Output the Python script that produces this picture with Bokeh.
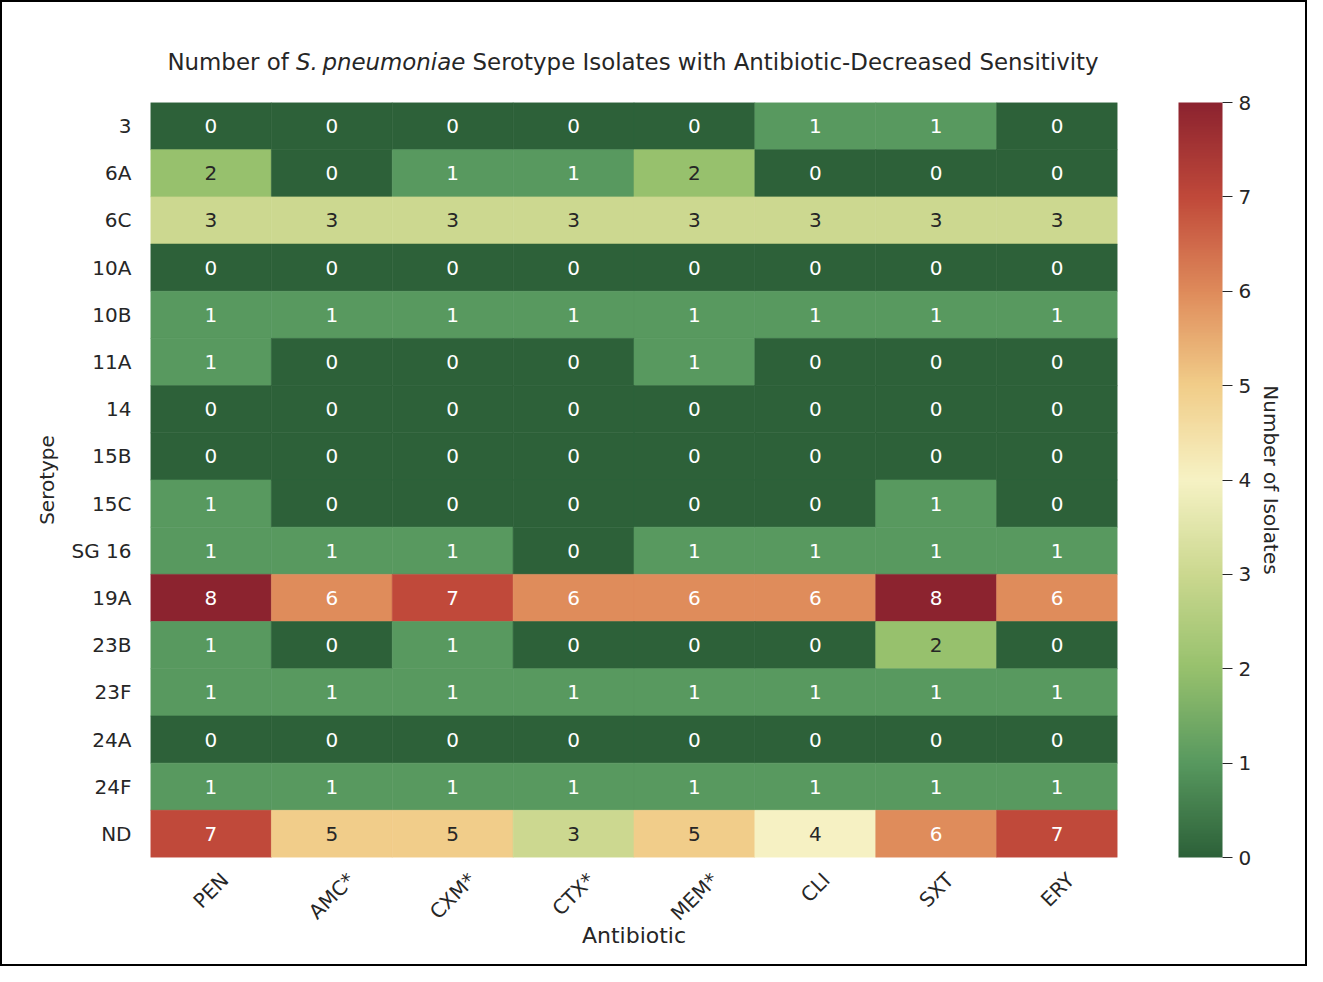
import math
import numpy as np
from bokeh.plotting import figure
from bokeh.layouts import column
from bokeh.models import (ColumnDataSource, LinearColorMapper, ColorBar,
                          FixedTicker, LinearAxis, Range1d, Div)
from bokeh.core.properties import value
from bokeh.embed import file_html
from bokeh.resources import INLINE

# ---------------- data ----------------
antibiotics = ["PEN", "AMC*", "CXM*", "CTX*", "MEM*", "CLI", "SXT", "ERY"]
serotypes = ["3", "6A", "6C", "10A", "10B", "11A", "14", "15B", "15C",
             "SG 16", "19A", "23B", "23F", "24A", "24F", "ND"]

row_3 = [0, 0, 0, 0, 0, 1, 1, 0]
row_6A = [2, 0, 1, 1, 2, 0, 0, 0]
row_6C = [3, 3, 3, 3, 3, 3, 3, 3]
row_10A = [0, 0, 0, 0, 0, 0, 0, 0]
row_10B = [1, 1, 1, 1, 1, 1, 1, 1]
row_11A = [1, 0, 0, 0, 1, 0, 0, 0]
row_14 = [0, 0, 0, 0, 0, 0, 0, 0]
row_15B = [0, 0, 0, 0, 0, 0, 0, 0]
row_15C = [1, 0, 0, 0, 0, 0, 1, 0]
row_SG16 = [1, 1, 1, 0, 1, 1, 1, 1]
row_19A = [8, 6, 7, 6, 6, 6, 8, 6]
row_23B = [1, 0, 1, 0, 0, 0, 2, 0]
row_23F = [1, 1, 1, 1, 1, 1, 1, 1]
row_24A = [0, 0, 0, 0, 0, 0, 0, 0]
row_24F = [1, 1, 1, 1, 1, 1, 1, 1]
row_ND = [7, 5, 5, 3, 5, 4, 6, 7]

rows = [row_3, row_6A, row_6C, row_10A, row_10B, row_11A, row_14, row_15B,
        row_15C, row_SG16, row_19A, row_23B, row_23F, row_24A, row_24F, row_ND]

colorbar_ticks = [0, 1, 2, 3, 4, 5, 6, 7, 8]

# ---------------- colours ----------------
anchor_colors = ["#2d6139", "#58995f", "#97c16d", "#cbd88f", "#f6f2c4",
                 "#f1cd89", "#df8b5b", "#c0493a", "#8c232f"]


def hex2rgb(h):
    return np.array([int(h[i:i + 2], 16) for i in (1, 3, 5)], dtype=float)


anchors = np.array([hex2rgb(c) for c in anchor_colors])
pos = np.linspace(0, 1, len(anchor_colors))
t = np.linspace(0, 1, 256)
rgb = np.stack([np.interp(t, pos, anchors[:, k]) for k in range(3)], axis=1)
palette = ["#%02x%02x%02x" % tuple(int(round(v)) for v in c) for c in rgb]
vmin, vmax = 0, 8


def color_of(v):
    idx = int(round((v - vmin) / (vmax - vmin) * 255))
    return palette[idx], rgb[idx] / 255.0


def rel_lum(c):
    c = np.where(c <= 0.03928, c / 12.92, ((c + 0.055) / 1.055) ** 2.4)
    return 0.2126 * c[0] + 0.7152 * c[1] + 0.0722 * c[2]


nx, ny = len(antibiotics), len(serotypes)
xs, ys, vals, fills, tcols = [], [], [], [], []
for j, r in enumerate(rows):
    for i, v in enumerate(r):
        col, c = color_of(v)
        xs.append(i + 0.5)                 # column index
        ys.append(ny - j - 0.5)            # first serotype at the top
        vals.append(str(v))
        fills.append(col)
        tcols.append("#262626" if rel_lum(c) > 0.408 else "#ffffff")

src = ColumnDataSource(dict(x=xs, y=ys, v=vals, fill=fills, tc=tcols))

# ---------------- layout ----------------
BW = 2                       # page border
W, H = 1307 - 2 * BW, 966 - 2 * BW
TH = 80                      # title block height
FL, FT, FR, FB = 148, 100, 1115, 855   # frame edges (inner page px)
FONT = "DejaVu Sans"
TXT = "#262626"

title = Div(
    text=('<div style="padding-top:47px; width:1262px; text-align:center; '
          'font-family:\'DejaVu Sans\'; font-size:22.9px; line-height:26px; '
          'color:#262626; white-space:nowrap;">Number of <i>S.&thinsp;pneumoniae</i> '
          'Serotype Isolates with Antibiotic-Decreased Sensitivity</div>'),
    width=W, height=TH, styles={"background-color": "white", "margin": "0"})

PH = H - TH
p = figure(width=W, height=PH, output_backend="svg", toolbar_location=None,
           x_range=Range1d(0, nx), y_range=Range1d(0, ny),
           x_axis_location=None, y_axis_location=None,
           min_border_left=FL, min_border_right=W - FR, min_border_top=FT - TH,
           min_border_bottom=PH - (FB - TH), title=None)
p.outline_line_color = None
p.grid.visible = False
p.background_fill_color = "white"
p.border_fill_color = "white"

p.rect(x="x", y="y", width=1, height=1, source=src, fill_color="fill",
       line_color="fill", line_width=0.6)
p.text(x="x", y="y", text="v", source=src, text_color="tc",
       text_align="center", text_baseline="middle",
       text_font=value(FONT), text_font_size="20px")

# serotype axis
yticks = [ny - j - 0.5 for j in range(ny)]
ya = LinearAxis(ticker=FixedTicker(ticks=yticks),
                major_label_overrides={yt: s for yt, s in zip(yticks, serotypes)},
                axis_line_color=None, major_tick_line_color=None,
                minor_tick_line_color=None, major_tick_out=0, major_tick_in=0,
                major_label_standoff=19, major_label_text_font=FONT,
                major_label_text_font_size="20px", major_label_text_color=TXT,
                axis_label="Serotype", axis_label_text_font=FONT,
                axis_label_text_font_style="normal",
                axis_label_text_font_size="20px", axis_label_text_color=TXT,
                axis_label_standoff=10)
p.add_layout(ya, "left")

# rotated antibiotic labels: centred on each column (shifted tick positions)
char_w = {"P": 1235, "E": 1294, "N": 1532, "A": 1401, "M": 1767, "C": 1430,
          "*": 1024, "X": 1401, "T": 1251, "L": 1141, "I": 604, "S": 1300,
          "Y": 1251, "R": 1423}
col_px = (FR - FL) / nx
xticks, xover = [], {}
for i, a in enumerate(antibiotics):
    w = sum(char_w[ch] for ch in a) / 2048 * 20
    tv = round(i + 0.5 + (w * 0.7071 / 2) / col_px, 4)
    xticks.append(tv)
    xover[tv] = a
xa = LinearAxis(ticker=FixedTicker(ticks=xticks), major_label_overrides=xover,
                major_label_orientation=math.pi / 4,
                axis_line_color=None, major_tick_line_color=None,
                minor_tick_line_color=None, major_tick_out=0, major_tick_in=0,
                major_label_standoff=19, major_label_text_font=FONT,
                major_label_text_font_size="20px", major_label_text_color=TXT,
                axis_label="Antibiotic", axis_label_text_font=FONT,
                axis_label_text_font_style="normal",
                axis_label_text_font_size="22px", axis_label_text_color=TXT,
                axis_label_standoff=-14)
p.add_layout(xa, "below")

# colour bar
mapper = LinearColorMapper(palette=palette, low=vmin, high=vmax)
cb = ColorBar(color_mapper=mapper, ticker=FixedTicker(ticks=colorbar_ticks),
              location=(1176 - FL, 0), width=44, height=FB - FT,
              padding=0, margin=0, major_tick_in=0, major_tick_out=10,
              major_tick_line_color=TXT, major_label_text_font=FONT,
              major_label_text_font_size="20px", major_label_text_color=TXT,
              label_standoff=6, bar_line_color=None, border_line_color=None,
              background_fill_color=None, minor_tick_line_color=None)
p.add_layout(cb, "center")

# colour bar label (right-side axis carrying only its label)
p.extra_y_ranges = {"cb": Range1d(vmin, vmax)}
ra = LinearAxis(y_range_name="cb", ticker=FixedTicker(ticks=[]),
                axis_line_color=None, major_tick_line_color=None,
                minor_tick_line_color=None, major_tick_out=0, major_tick_in=0,
                axis_label="Number of Isolates", axis_label_text_font=FONT,
                axis_label_text_font_style="normal",
                axis_label_text_font_size="20px", axis_label_text_color=TXT,
                axis_label_standoff=141)
p.add_layout(ra, "right")

layout = column(title, p, spacing=0,
                styles={"border": "%dpx solid black" % BW, "background-color": "white"})

open("out.html", "w").write(file_html(layout, INLINE))
